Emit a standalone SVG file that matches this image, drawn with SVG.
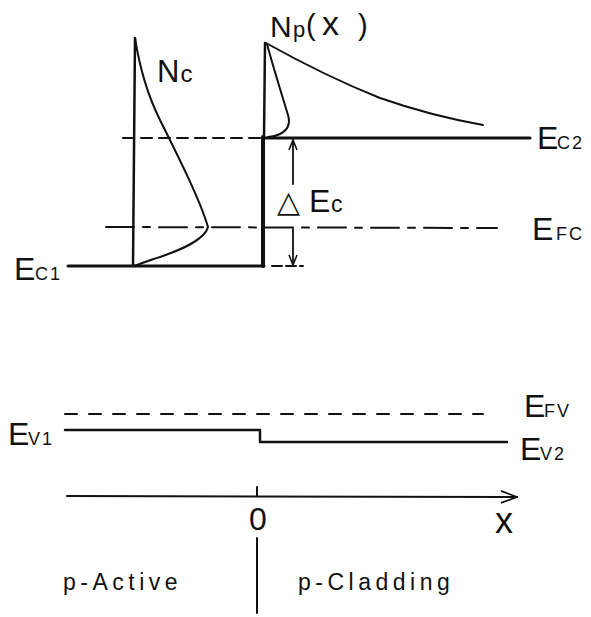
<svg xmlns="http://www.w3.org/2000/svg" width="591" height="617" viewBox="0 0 591 617">
<style>
  .ln{fill:none;stroke:#111;stroke-linecap:round;stroke-linejoin:round}
  .t{font-family:"Liberation Sans","Arial",sans-serif;fill:#111}
  .big{font-size:32px}
  .sub{font-size:18px;letter-spacing:2px}
  .lbl{font-size:23px;letter-spacing:4.5px}
</style>
<defs>
  <marker id="vhead" viewBox="0 0 12 10" refX="11" refY="5" markerWidth="12" markerHeight="10" markerUnits="userSpaceOnUse" orient="auto">
    <polyline points="1,1 11,5 1,9" fill="none" stroke="#111" stroke-width="1.6" stroke-linejoin="miter"/>
  </marker>
  <marker id="axhead" viewBox="0 0 18 14" refX="17" refY="7" markerWidth="18" markerHeight="14" markerUnits="userSpaceOnUse" orient="auto">
    <polyline points="1,1 17,7 1,13" fill="none" stroke="#111" stroke-width="1.8"/>
  </marker>
</defs>
<rect width="591" height="617" fill="#fff"/>

<g id="conduction-band">
  <path class="ln" stroke-width="2.5" d="M135,38 L133,266"/>
  <path class="ln" stroke-width="2" d="M135,38 C140,70 150,100 160,120 C180,160 200,200 208,227 C205,240 180,250 160,257 C150,260 140,264 134,266"/>
  <path class="ln" stroke-width="3" d="M68,266 L264,266"/>
  <path class="ln" stroke-width="2.5" d="M265,43 L264,138"/>
  <path class="ln" stroke-width="4" d="M263,137 L263,266"/>
  <path class="ln" stroke-width="2" d="M266,43 C300,62 340,82 380,98 C420,112 455,120 483,125"/>
  <path class="ln" stroke-width="2" d="M267,44 C274,70 282,95 288,115 C291,125 286,131 280,134 C276,136 272,137 268,137"/>
  <path class="ln" stroke-width="2" stroke-dasharray="11 7" d="M123,138 L262,138"/>
  <path class="ln" stroke-width="3" d="M262,138 L530,138"/>
  <path class="ln" stroke-width="2" stroke-dasharray="28 9 7 9" d="M106,227 L497,228"/>
  <path class="ln" stroke-width="2" stroke-dasharray="10 4" d="M272,266 L303,266"/>
</g>

<g id="connectors">
  <path class="ln" stroke-width="1.8" d="M293,184 L293,140" marker-end="url(#vhead)"/>
  <path class="ln" stroke-width="1.8" d="M293,229 L293,265" marker-end="url(#vhead)"/>
  <path class="ln" stroke-width="2" d="M67,496 L517,497" marker-end="url(#axhead)"/>
  <path class="ln" stroke-width="2" d="M257,487 L257,496"/>
  <path class="ln" stroke-width="2" d="M257,538 L257,613"/>
</g>

<g id="valence-band">
  <path class="ln" stroke-width="2" stroke-dasharray="12 12" d="M65,414 L483,414"/>
  <path class="ln" stroke-width="2.5" d="M65,430 L260,430 L260,442 L507,442"/>
</g>

<g id="labels">
  <text class="t" x="157" y="82"><tspan font-size="31px">N</tspan><tspan font-size="24px" dx="1">c</tspan></text>
  <text class="t" y="37"><tspan x="270" font-size="30px">N</tspan><tspan x="293" font-size="22px">p</tspan><tspan x="306" y="35" font-size="29px">(</tspan><tspan x="322" font-size="34px">x</tspan><tspan x="358" font-size="29px">)</tspan></text>
  <text class="t" x="14" y="280"><tspan class="big">E</tspan><tspan class="sub" x="35">C1</tspan></text>
  <text class="t" x="537" y="149"><tspan class="big">E</tspan><tspan class="sub" x="557">C2</tspan></text>
  <text class="t" x="532" y="240"><tspan class="big">E</tspan><tspan class="sub" x="556">FC</tspan></text>
  <text class="t" x="277" y="212"><tspan font-family="DejaVu Sans" font-size="30px">△</tspan><tspan class="big" x="309">E</tspan><tspan font-size="23px" x="331">c</tspan></text>
  <text class="t" x="524" y="417"><tspan class="big">E</tspan><tspan class="sub" x="544">FV</tspan></text>
  <text class="t" x="8" y="445"><tspan class="big">E</tspan><tspan class="sub" x="28">V1</tspan></text>
  <text class="t" x="520" y="460"><tspan class="big">E</tspan><tspan class="sub" x="540">V2</tspan></text>
  <text class="t big" x="258" y="530" text-anchor="middle">0</text>
  <text class="t" x="504" y="533" font-size="36px" text-anchor="middle">x</text>
  <text class="t lbl" x="63" y="590">p-Active</text>
  <text class="t lbl" x="298" y="590">p-Cladding</text>
</g>
</svg>
